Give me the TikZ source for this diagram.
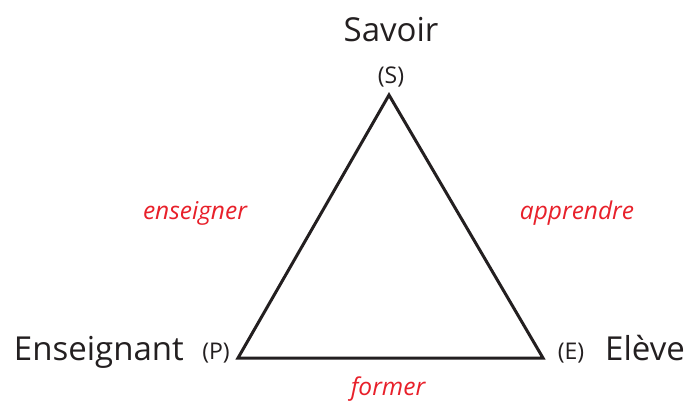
\documentclass[tikz,border=0pt]{standalone}
\usepackage{fontspec}
\setmainfont{Open Sans}
\definecolor{lblred}{HTML}{E8202A}
\definecolor{ink}{HTML}{231F20}
\begin{document}
\begin{tikzpicture}[x=1pt,y=-1pt,
  big/.style={font=\fontsize{33}{38}\selectfont, text=ink, inner sep=0pt, anchor=base},
  small/.style={font=\fontsize{23}{27}\selectfont, text=ink, inner sep=0pt, anchor=base},
  verb/.style={font=\fontsize{24.5}{29}\selectfont\itshape, text=lblred, inner sep=0pt, anchor=base},
  edge/.style={draw=ink, line width=3pt, line join=miter}]
\useasboundingbox (0,0) rectangle (692,401);
\coordinate (S) at (389,95);
\coordinate (P) at (238,358);
\coordinate (E) at (543,358);
\draw[edge] (S) -- (P) -- (E) -- cycle;
\node[big] (savoir) at (391,42) {Savoir};
\node[small] (s) at (391,84) {(S)};
\node[big, anchor=base east] (ens) at (184,360) {Enseignant};
\node[small] (p) at (216,359) {(P)};
\node[small] (e) at (571,359) {(E)};
\node[big, anchor=base west] (eleve) at (605,360) {Elève};
\node[verb] (enseigner) at (195,219) {enseigner};
\node[verb] (apprendre) at (577,219) {apprendre};
\node[verb] (former) at (388,395) {former};
\end{tikzpicture}
\end{document}
